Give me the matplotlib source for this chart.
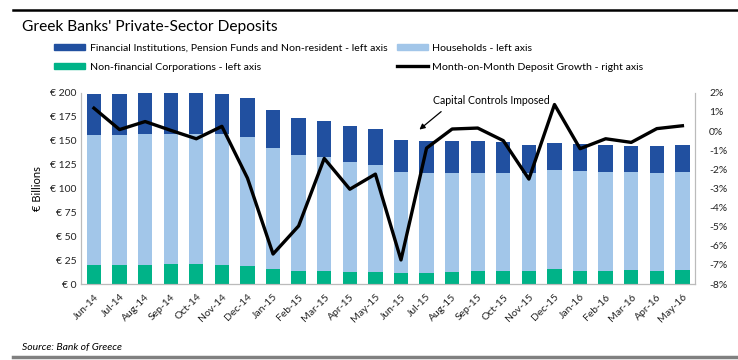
import numpy as np
import matplotlib.pyplot as plt
from matplotlib.lines import Line2D
from matplotlib.patches import Patch

plt.rcParams['font.family'] = ['Lato', 'DejaVu Sans']

# data
months = ['Jun-14', 'Jul-14', 'Aug-14', 'Sep-14', 'Oct-14', 'Nov-14', 'Dec-14',
          'Jan-15', 'Feb-15', 'Mar-15', 'Apr-15', 'May-15', 'Jun-15', 'Jul-15',
          'Aug-15', 'Sep-15', 'Oct-15', 'Nov-15', 'Dec-15', 'Jan-16', 'Feb-16',
          'Mar-16', 'Apr-16', 'May-16']
corporates = [20, 20, 20, 21, 21, 20, 19, 15.7, 13.6, 14, 12.6, 12.6, 12, 12,
              13, 13.5, 13.6, 13.5, 15.7, 14, 13.6, 14.7, 13.6, 14.7]
totals_hh = [156, 156, 157, 157.5, 157, 157, 154, 142, 135, 133, 128, 125, 117.5, 116,
             116, 116, 115.7, 116, 118.8, 117.8, 117, 117, 116, 117]
totals_all = [199.3, 199.3, 200, 200, 199.5, 199.3, 194.7, 182.5, 173.4, 171, 165.7, 162,
              151, 150, 150, 150, 149, 145, 147.5, 146.5, 145.4, 144.7, 144.7, 145]
mom_growth = [1.2, 0.08, 0.5, 0.04, -0.4, 0.25, -2.46, -6.43, -4.96, -1.43, -3.04, -2.25,
              -6.74, -0.89, 0.11, 0.16, -0.5, -2.51, 1.39, -0.92, -0.4, -0.59, 0.13, 0.28]

households = np.array(totals_hh) - np.array(corporates)
financial = np.array(totals_all) - np.array(totals_hh)

c_fin = '#2150a0'
c_hh = '#a2c6e9'
c_corp = '#00b388'

fig = plt.figure(figsize=(7.38, 3.6), dpi=100)
ax = fig.add_axes([0.110, 0.211, 0.832, 0.531])
x = np.arange(len(months))
w = 0.56
ax.bar(x, corporates, w, color=c_corp)
ax.bar(x, households, w, bottom=corporates, color=c_hh)
ax.bar(x, financial, w, bottom=totals_hh, color=c_fin)
ax.set_xlim(-0.5, len(months) - 0.5)
ax.set_ylim(0, 200)
ax.set_yticks(np.arange(0, 201, 25))
ax.set_yticklabels(['€ %d' % v for v in range(0, 201, 25)])
ax.set_xticks(x)
ax.set_xticklabels(months, rotation=45, ha='right', rotation_mode='anchor')
ax.set_ylabel('€ Billions', fontsize=8, labelpad=5)
ax.tick_params(length=0, labelsize=7.5, colors='#222222')
ax.tick_params(axis='x', pad=6)
for s in ['left', 'bottom', 'right']:
    ax.spines[s].set_color('#bbbbbb')
ax.spines['bottom'].set_color('#999999')
ax.spines['top'].set_visible(False)

ax2 = ax.twinx()
ax2.plot(x, mom_growth, color='black', lw=2.4)
ax2.set_ylim(-8, 2)
ax2.set_yticks(np.arange(-8, 3, 1))
ax2.set_yticklabels(['%d%%' % v for v in range(-8, 3)])
ax2.tick_params(length=0, labelsize=7.5, colors='#222222', pad=10)
for s in ['left', 'bottom', 'right']:
    ax2.spines[s].set_color('#bbbbbb')
ax2.spines['top'].set_visible(False)

# annotation for capital controls
ax2.text(13.25, 1.6, 'Capital Controls Imposed', fontsize=7.6, ha='left', va='center')
ax2.annotate('', xy=(12.72, 0.08), xytext=(13.57, 1.02),
             arrowprops=dict(arrowstyle='-|>', color='black', lw=0.9, mutation_scale=8,
                             shrinkA=0, shrinkB=0))

handles = [Patch(color=c_fin), Patch(color=c_corp), Patch(color=c_hh),
           Line2D([], [], color='black', lw=2.4)]
labels = ['Financial Institutions, Pension Funds and Non-resident - left axis',
          'Non-financial Corporations - left axis',
          'Households - left axis',
          'Month-on-Month Deposit Growth - right axis']
fig.legend(handles, labels, ncol=2, loc='upper left', bbox_to_anchor=(0.073, 0.879),
           frameon=False, fontsize=7.55, handlelength=3.0, handleheight=0.45,
           handletextpad=0.4, columnspacing=0.9, labelspacing=0.95,
           borderpad=0, borderaxespad=0)

fig.text(0.03, 0.924, "Greek Banks' Private-Sector Deposits", fontsize=11.2, va='center')
fig.text(0.03, 0.035, 'Source: Bank of Greece', fontsize=7.5, style='italic', va='center')
fig.add_artist(Line2D([0.018, 1.0], [0.972, 0.972], color='black', lw=1.8))
fig.add_artist(Line2D([0.018, 1.0], [0.009, 0.009], color='#808080', lw=2.5))

fig.savefig('out.png', dpi=100)
